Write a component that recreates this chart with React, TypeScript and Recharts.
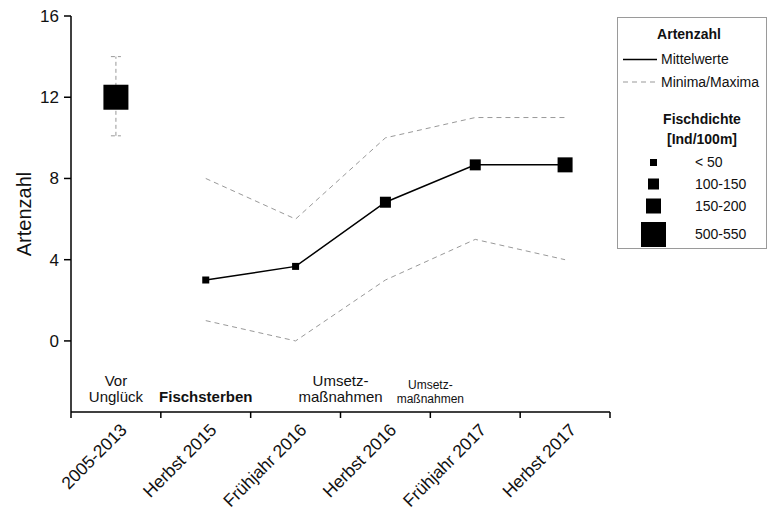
import { ComposedChart, Line, Scatter, XAxis, YAxis, ErrorBar, ReferenceDot, Label } from "recharts"

const perioden = ["2005-2013", "Herbst 2015", "Frühjahr 2016", "Herbst 2016", "Frühjahr 2017", "Herbst 2017"]
const mittelwerte = [12, 3, 3.67, 6.83, 8.67, 8.67]
const maxima = [14, 8, 6, 10, 11, 11]
const minima = [10.1, 1, 0, 3, 5, 4]
const fischdichte = ["500-550", "< 50", "< 50", "100-150", "100-150", "150-200"]
const dichteKlassen = ["< 50", "100-150", "150-200", "500-550"]
const yTicks = [0, 4, 8, 12, 16]

// Texte unter den Kurven: Position auf der x-Achse (Periodenindex) und Zeilen
const hinweise = [
  { pos: 0.5, zeilen: ["Vor", "Unglück"], fett: false, klein: false },
  { pos: 1.5, zeilen: ["Fischsterben"], fett: true, klein: false },
  { pos: 3, zeilen: ["Umsetz-", "maßnahmen"], fett: false, klein: false },
  { pos: 4, zeilen: ["Umsetz-", "maßnahmen"], fett: false, klein: true },
]

const FONT = "'Liberation Sans', Arial, Helvetica, sans-serif"
const markerGroesse: Record<string, number> = { "< 50": 7, "100-150": 11, "150-200": 15, "500-550": 25 }

const data = perioden.map((periode, i) => ({
  x: i + 0.5,
  periode,
  punkt: mittelwerte[i],
  mittel: i === 0 ? null : mittelwerte[i],
  max: i === 0 ? null : maxima[i],
  min: i === 0 ? null : minima[i],
  spanne: i === 0 ? [mittelwerte[i] - minima[i], maxima[i] - mittelwerte[i]] : undefined,
  dichte: fischdichte[i],
}))

const xTicks = [...perioden.flatMap((_, i) => [i, i + 0.5]), perioden.length]

function XTick(props: any) {
  const { x, y, payload } = props
  const v = payload.value
  if (Number.isInteger(v)) {
    return <line x1={x} x2={x} y1={y} y2={y + 6} stroke="#000" strokeWidth={1.5} />
  }
  const ax = x + 12
  const ay = y + 19
  return (
    <text x={ax} y={ay} transform={`rotate(-45, ${ax}, ${ay})`} textAnchor="end" fontSize={17.5} fontFamily={FONT} fill="#111">
      {perioden[Math.floor(v)]}
    </text>
  )
}

function Quadrat(props: any) {
  const { cx, cy, payload } = props
  const s = markerGroesse[payload.dichte]
  return <rect x={cx - s / 2} y={cy - s / 2} width={s} height={s} fill="#000" />
}

function Hinweis({ cx, cy, h }: any) {
  const fs = h.klein ? 12 : 15
  const lh = h.klein ? 14 : 16
  const n = h.zeilen.length
  return (
    <text textAnchor="middle" fontSize={fs} fontFamily={FONT} fontWeight={h.fett ? "bold" : "normal"} fill="#111">
      {h.zeilen.map((z: string, k: number) => (
        <tspan key={k} x={cx} y={cy + (h.klein ? 2 : 0) - (n - 1 - k) * lh} dy="0.35em">
          {z}
        </tspan>
      ))}
    </text>
  )
}

function Legende() {
  const ys = [144.5, 166, 188, 216.5]
  return (
    <div style={{ position: "absolute", left: 617, top: 17, width: 150, height: 232, border: "1px solid #9a9a9a", boxSizing: "border-box" }}>
      <svg width={148} height={230} style={{ position: "absolute", left: 0, top: 0 }} fontFamily={FONT} fontSize={14}>
        <text x={71} y={16.5} dy="0.35em" textAnchor="middle" fontWeight="bold" fill="#111">Artenzahl</text>
        <line x1={5} x2={39} y1={41.5} y2={41.5} stroke="#000" strokeWidth={1.5} />
        <text x={43} y={41.5} dy="0.35em" fill="#111">Mittelwerte</text>
        <line x1={5} x2={39} y1={64} y2={64} stroke="#999" strokeWidth={1} strokeDasharray="5 4" />
        <text x={43} y={64} dy="0.35em" fill="#111">Minima/Maxima</text>
        <text x={84} y={101} dy="0.35em" textAnchor="middle" fontWeight="bold" fill="#111">Fischdichte</text>
        <text x={84} y={121} dy="0.35em" textAnchor="middle" fontWeight="bold" fill="#111">[Ind/100m]</text>
        {dichteKlassen.map((k, i) => {
          const s = markerGroesse[k]
          return (
            <g key={k}>
              <rect x={35.5 - s / 2} y={ys[i] - s / 2} width={s} height={s} fill="#000" />
              <text x={77} y={ys[i]} dy="0.35em" fill="#111">{k}</text>
            </g>
          )
        })}
      </svg>
    </div>
  )
}

export default function App() {
  return (
    <div style={{ position: "absolute", left: 0, top: 0, width: 768, height: 512, background: "#fff", fontFamily: FONT }}>
      <ComposedChart width={768} height={512} data={data} margin={{ top: 16, right: 158, bottom: 0, left: 0 }}>
        <XAxis
          dataKey="x"
          type="number"
          domain={[0, 6]}
          ticks={xTicks}
          interval={0}
          allowDataOverflow
          height={100}
          tickLine={false}
          tickSize={0}
          tickMargin={0}
          axisLine={{ stroke: "#000", strokeWidth: 1.5 }}
          tick={<XTick />}
        />
        <YAxis
          type="number"
          domain={[-3.5, 16]}
          ticks={yTicks}
          allowDataOverflow
          width={71}
          tickSize={7}
          tickMargin={5}
          axisLine={{ stroke: "#000", strokeWidth: 1.5 }}
          tickLine={{ stroke: "#000", strokeWidth: 1.5 }}
          tick={{ fontSize: 17, fill: "#111", fontFamily: FONT }}
        >
          <Label
            content={({ viewBox }: any) => {
              const cy = viewBox.y + viewBox.height / 2
              return (
                <text x={31} y={cy} transform={`rotate(-90, 31, ${cy})`} textAnchor="middle" fontSize={20} fontFamily={FONT} fill="#111">
                  Artenzahl
                </text>
              )
            }}
          />
        </YAxis>
        <Line dataKey="max" stroke="#999" strokeWidth={1} strokeDasharray="5 4" dot={false} isAnimationActive={false} />
        <Line dataKey="min" stroke="#999" strokeWidth={1} strokeDasharray="5 4" dot={false} isAnimationActive={false} />
        <Line dataKey="mittel" stroke="#000" strokeWidth={1.5} dot={false} isAnimationActive={false} />
        <Scatter dataKey="punkt" shape={<Quadrat />} isAnimationActive={false}>
          <ErrorBar dataKey="spanne" direction="y" width={5} stroke="#999" strokeWidth={1} strokeDasharray="4 3" isAnimationActive={false} />
        </Scatter>
        {hinweise.map((h, i) => (
          <ReferenceDot key={i} x={h.pos} y={-2.75} r={1} shape={(p: any) => <Hinweis cx={p.cx} cy={p.cy} h={h} />} />
        ))}
      </ComposedChart>
      <Legende />
    </div>
  )
}
